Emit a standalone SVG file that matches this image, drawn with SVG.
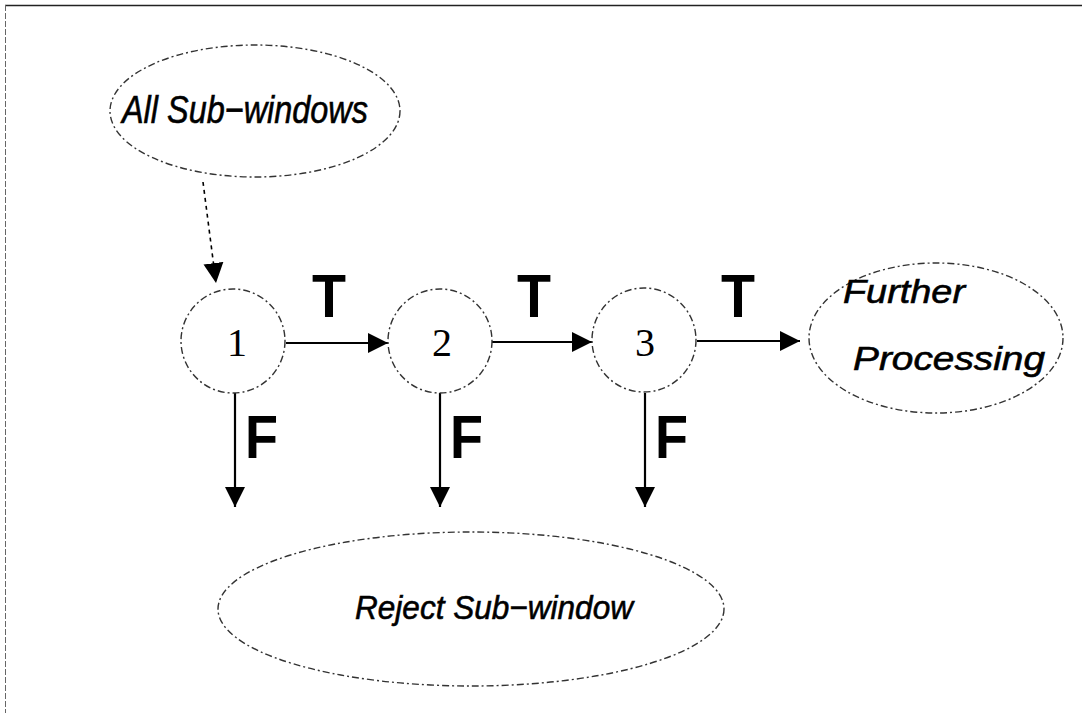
<svg xmlns="http://www.w3.org/2000/svg" width="1082" height="713" viewBox="0 0 1082 713">
<style>
  .shape { fill: none; stroke: #333; stroke-width: 1.4; stroke-dasharray: 7 3 2 3; }
  .lbl { font-family: "Liberation Sans", Arial, sans-serif; font-style: italic; fill: #000; stroke: #000; stroke-width: 0.6; }
  .num { font-family: "Liberation Serif", "Times New Roman", serif; font-size: 40px; fill: #000; text-anchor: middle; }
  .tf { font-family: "Liberation Sans", Arial, sans-serif; font-weight: bold; font-size: 62px; fill: #000; }
  .edge { stroke: #000; stroke-width: 2.2; fill: none; }
  .dedge { stroke: #000; stroke-width: 1.6; fill: none; stroke-dasharray: 4 4; }
</style>
<defs>
  <marker id="ahb" viewBox="0 0 10 10" refX="10" refY="5" markerWidth="20" markerHeight="21" markerUnits="userSpaceOnUse" orient="auto">
    <path d="M0,0 L10,5 L0,10 Z" fill="#000"/>
  </marker>
</defs>
<rect width="1082" height="713" fill="#fff"/>
<g id="frame">
  <line x1="5" y1="5.5" x2="1082" y2="5.5" stroke="#222" stroke-width="1.5"/>
  <line x1="5.5" y1="5" x2="5.5" y2="713" stroke="#666" stroke-width="1" stroke-dasharray="6 2"/>
</g>
<g id="connectors">
  <line class="dedge" x1="203" y1="182" x2="216" y2="283" marker-end="url(#ahb)"/>
  <line class="edge" x1="286" y1="343" x2="388" y2="343" marker-end="url(#ahb)"/>
  <line class="edge" x1="492" y1="342" x2="592" y2="342" marker-end="url(#ahb)"/>
  <line class="edge" x1="697" y1="341" x2="800" y2="341" marker-end="url(#ahb)"/>
  <line class="edge" x1="235" y1="393" x2="235" y2="507" marker-end="url(#ahb)"/>
  <line class="edge" x1="440" y1="393" x2="440" y2="507" marker-end="url(#ahb)"/>
  <line class="edge" x1="645" y1="393" x2="645" y2="507" marker-end="url(#ahb)"/>
  <text class="tf" x="312" y="317" textLength="34" lengthAdjust="spacingAndGlyphs">T</text>
  <text class="tf" x="517" y="317" textLength="34" lengthAdjust="spacingAndGlyphs">T</text>
  <text class="tf" x="721" y="317" textLength="34" lengthAdjust="spacingAndGlyphs">T</text>
  <text class="tf" x="245" y="458" textLength="33" lengthAdjust="spacingAndGlyphs">F</text>
  <text class="tf" x="450" y="458" textLength="33" lengthAdjust="spacingAndGlyphs">F</text>
  <text class="tf" x="655" y="458" textLength="33" lengthAdjust="spacingAndGlyphs">F</text>
</g>
<g id="all-subwindows">
  <ellipse class="shape" cx="255" cy="111" rx="145" ry="66"/>
  <text class="lbl" x="122" y="123" font-size="39" textLength="246" lengthAdjust="spacingAndGlyphs">All Sub−windows</text>
</g>
<g id="stage1">
  <circle class="shape" cx="233" cy="341" r="52"/>
  <text class="num" x="237" y="356">1</text>
</g>
<g id="stage2">
  <circle class="shape" cx="440" cy="341" r="52"/>
  <text class="num" x="442" y="356">2</text>
</g>
<g id="stage3">
  <circle class="shape" cx="644" cy="340" r="52"/>
  <text class="num" x="645" y="356">3</text>
</g>
<g id="further-processing">
  <ellipse class="shape" cx="936" cy="338" rx="127" ry="75"/>
  <text class="lbl" x="843" y="303" font-size="33" textLength="122" lengthAdjust="spacingAndGlyphs">Further</text>
  <text class="lbl" x="853" y="370" font-size="33" textLength="192" lengthAdjust="spacingAndGlyphs">Processing</text>
</g>
<g id="reject-subwindow">
  <ellipse class="shape" cx="471" cy="609" rx="253" ry="77"/>
  <text class="lbl" x="355" y="619" font-size="34" textLength="278" lengthAdjust="spacingAndGlyphs">Reject Sub−window</text>
</g>
</svg>
